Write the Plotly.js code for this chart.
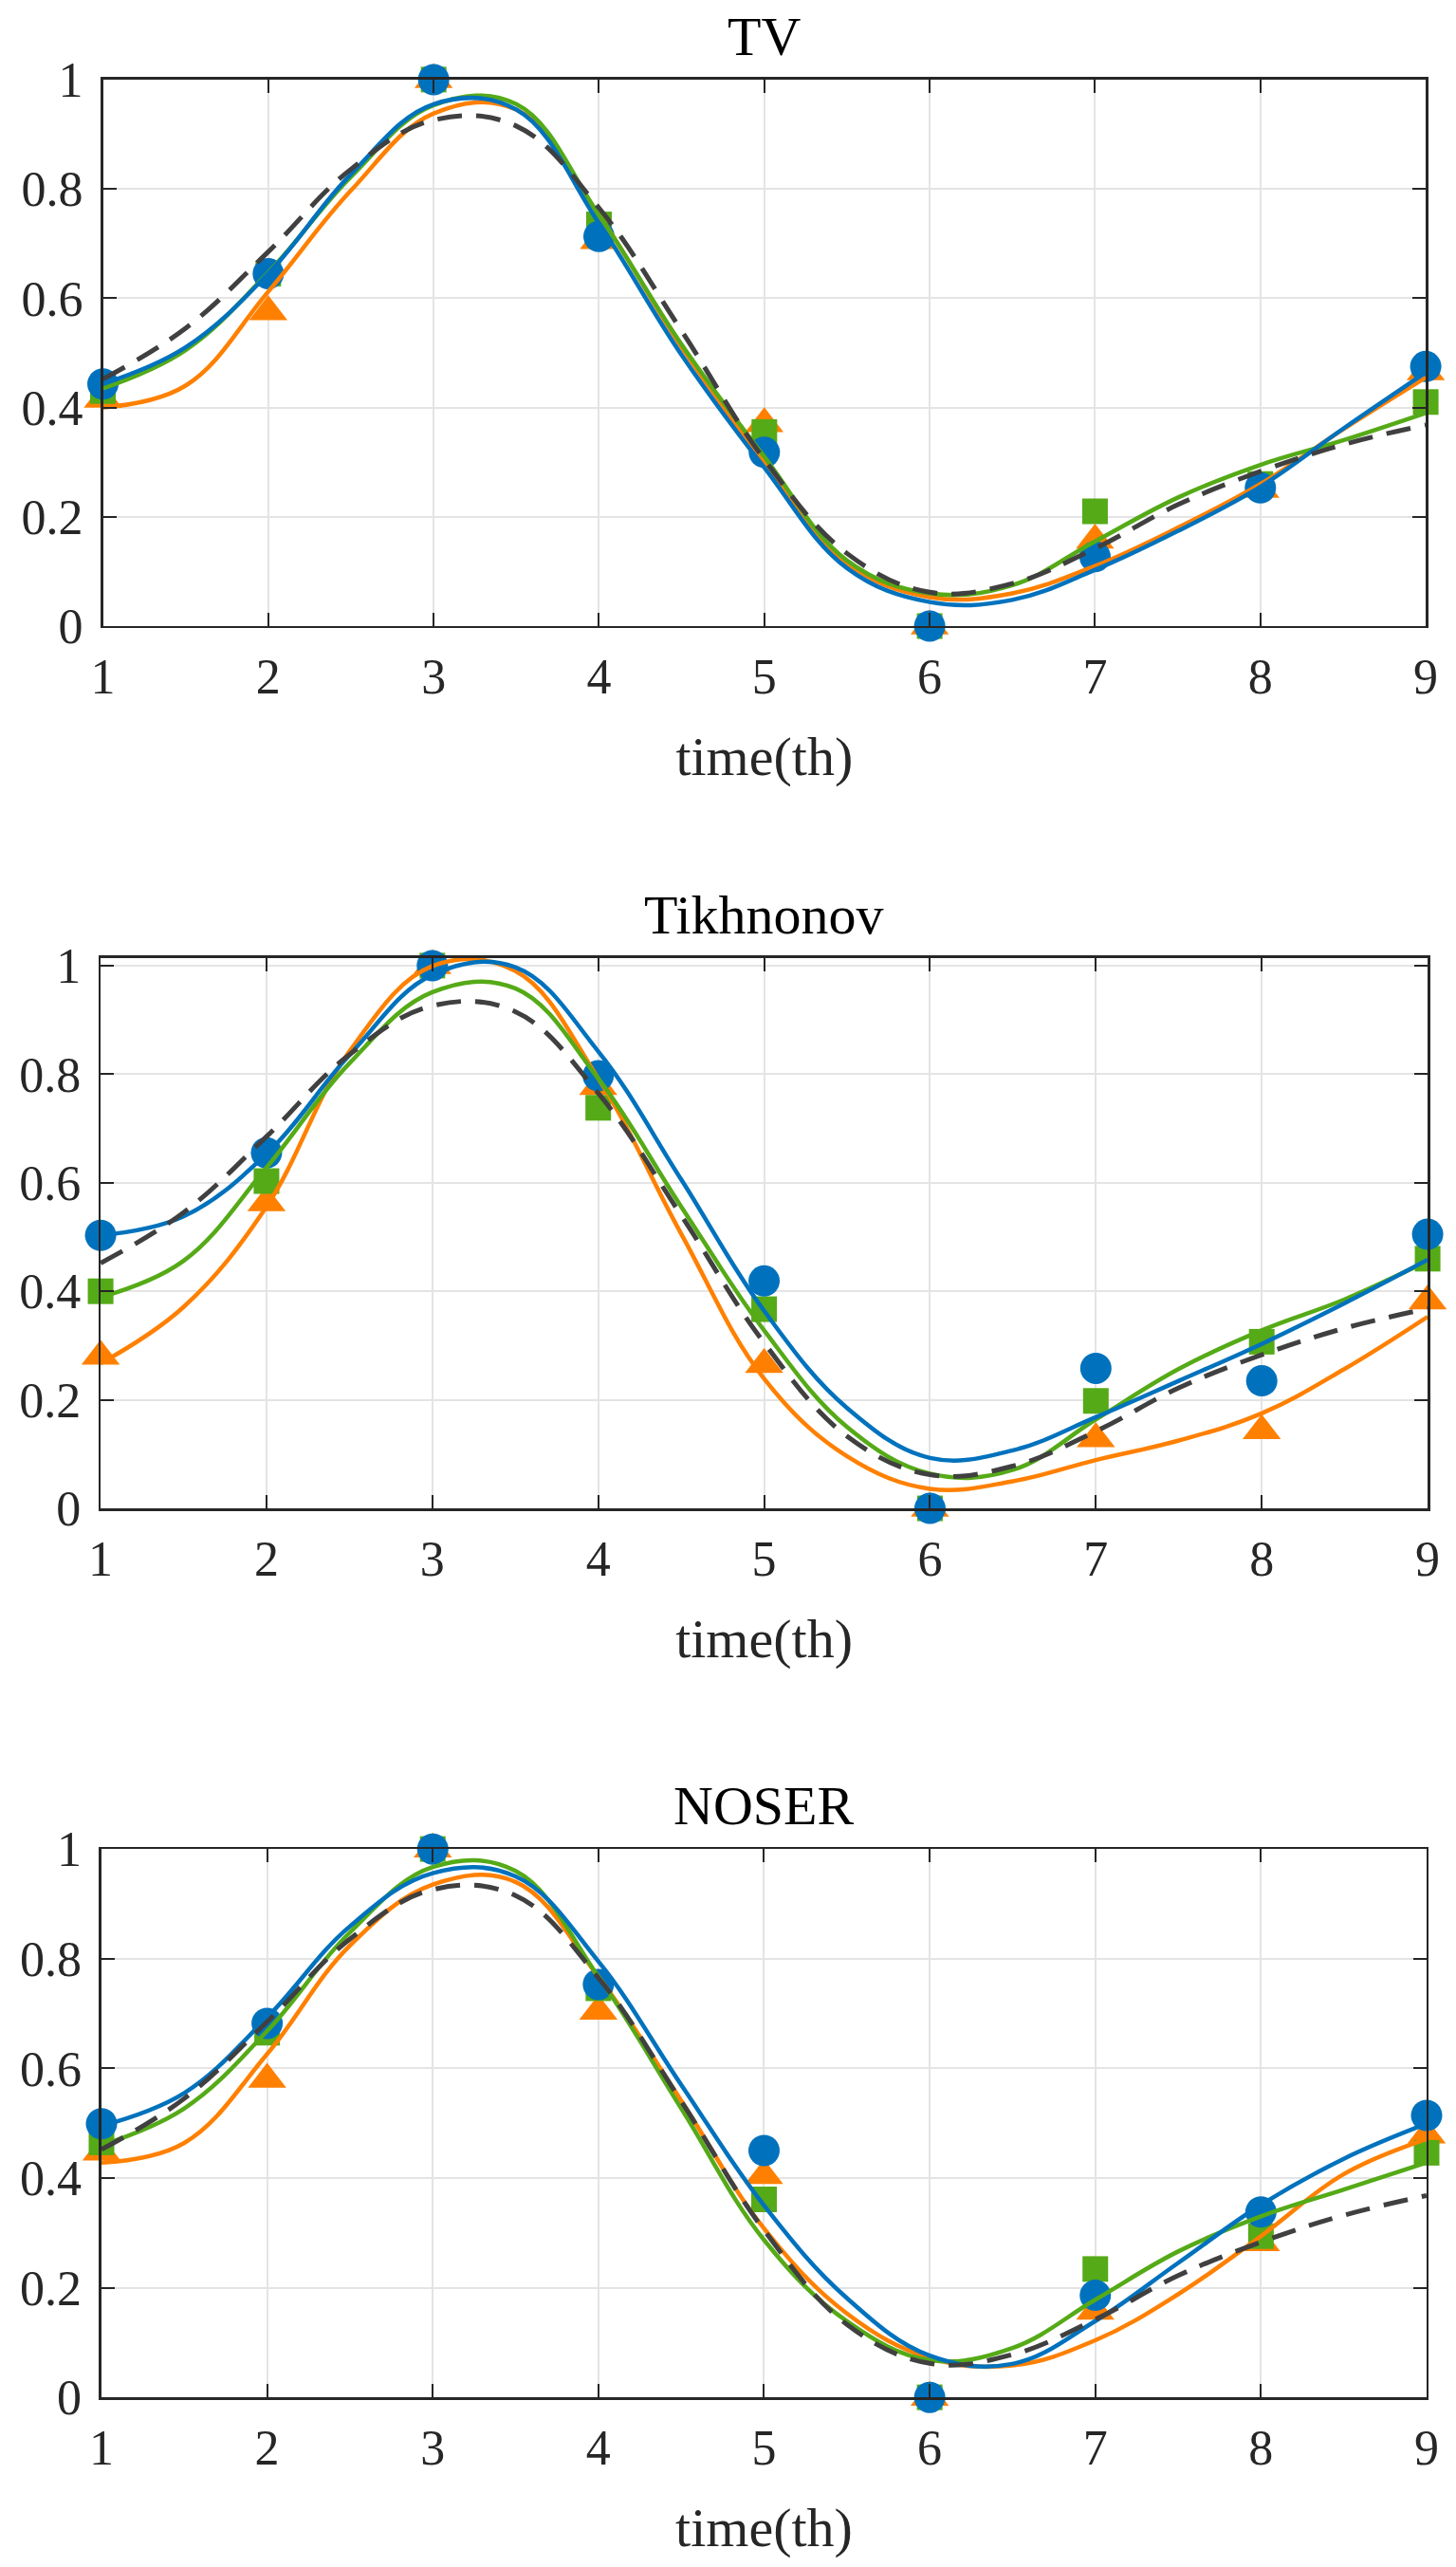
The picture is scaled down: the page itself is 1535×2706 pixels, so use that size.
<!DOCTYPE html>
<html><head><meta charset="utf-8">
<script src="https://cdn.plot.ly/plotly-3.0.1.min.js"></script>
<style>html,body{margin:0;padding:0;background:#fff}</style>
</head><body>
<div id="chart" style="width:1535px;height:2706px"></div>
<script>
// ---- data ----
const panelTitles = ["TV", "Tikhnonov", "NOSER"];
const xTitle = "time(th)";
const xMarkers = [1, 2, 3, 4, 5, 6, 7, 8, 9];
const xCurve = [1, 1.5, 2, 2.5, 3, 3.5, 4, 4.5, 5, 5.5, 6, 6.5, 7, 7.5, 8, 8.5, 9];
const xTickVals = [1, 2, 3, 4, 5, 6, 7, 8, 9];
const yTickVals = [0, 0.2, 0.4, 0.6, 0.8, 1];
const yTickText = ["0", "0.2", "0.4", "0.6", "0.8", "1"];

// reference (dashed) curve, same in every panel
const trueCurve = [0.452, 0.545, 0.685, 0.836, 0.926, 0.915, 0.765, 0.540, 0.305, 0.133, 0.062, 0.078, 0.142, 0.222, 0.283, 0.332, 0.368];

// TV
const tvOrangeCurve = [0.400, 0.440, 0.612, 0.797, 0.938, 0.945, 0.752, 0.510, 0.300, 0.115, 0.053, 0.060, 0.110, 0.180, 0.260, 0.360, 0.455];
const tvGreenCurve  = [0.435, 0.505, 0.647, 0.822, 0.953, 0.955, 0.752, 0.515, 0.310, 0.120, 0.060, 0.075, 0.155, 0.235, 0.295, 0.340, 0.390];
const tvBlueCurve   = [0.443, 0.510, 0.645, 0.827, 0.955, 0.945, 0.737, 0.496, 0.290, 0.106, 0.044, 0.048, 0.103, 0.174, 0.255, 0.361, 0.464];
const tvOrangePts = [0.415, 0.575, 1.0, 0.705, 0.370, 0.0, 0.157, 0.250, 0.465];
const tvGreenPts  = [0.430, 0.645, 1.0, 0.735, 0.355, 0.0, 0.210, 0.260, 0.410];
const tvBluePts   = [0.443, 0.645, 1.0, 0.713, 0.318, 0.0, 0.127, 0.253, 0.475];

// Tikhnonov
const tikOrangeCurve = [0.267, 0.371, 0.556, 0.842, 0.999, 0.990, 0.792, 0.506, 0.239, 0.096, 0.036, 0.050, 0.089, 0.125, 0.175, 0.257, 0.353];
const tikGreenCurve  = [0.389, 0.456, 0.628, 0.820, 0.951, 0.958, 0.792, 0.556, 0.328, 0.150, 0.064, 0.071, 0.164, 0.257, 0.328, 0.385, 0.456];
const tikBlueCurve   = [0.503, 0.538, 0.653, 0.835, 0.983, 0.997, 0.842, 0.606, 0.364, 0.185, 0.093, 0.107, 0.168, 0.235, 0.303, 0.378, 0.458];
const tikOrangePts = [0.280, 0.563, 1.0, 0.777, 0.265, 0.0, 0.128, 0.143, 0.382];
const tikGreenPts  = [0.400, 0.603, 1.0, 0.738, 0.367, 0.0, 0.198, 0.307, 0.460];
const tikBluePts   = [0.503, 0.655, 1.0, 0.797, 0.419, 0.0, 0.258, 0.235, 0.505];

// NOSER
const noserOrangeCurve = [0.428, 0.464, 0.626, 0.824, 0.935, 0.940, 0.767, 0.541, 0.308, 0.153, 0.072, 0.058, 0.104, 0.188, 0.294, 0.407, 0.471];
const noserGreenCurve  = [0.460, 0.527, 0.668, 0.848, 0.967, 0.960, 0.767, 0.527, 0.287, 0.139, 0.068, 0.090, 0.178, 0.266, 0.330, 0.379, 0.428];
const noserBlueCurve   = [0.495, 0.555, 0.693, 0.859, 0.956, 0.950, 0.795, 0.570, 0.350, 0.181, 0.076, 0.061, 0.139, 0.245, 0.351, 0.435, 0.499];
const noserOrangePts = [0.447, 0.580, 1.0, 0.704, 0.404, 0.0, 0.157, 0.282, 0.478];
const noserGreenPts  = [0.465, 0.665, 1.0, 0.746, 0.361, 0.0, 0.234, 0.294, 0.446];
const noserBluePts   = [0.499, 0.682, 1.0, 0.753, 0.450, 0.0, 0.186, 0.338, 0.514];

// ---- styling ----
const C_ORANGE = "#FF8000", C_GREEN = "#55AA17", C_BLUE = "#0072BD", C_DASH = "#404040";
const FONT = "'Liberation Serif', 'Times New Roman', serif";

const panels = [
  {curves: [tvOrangeCurve, tvGreenCurve, tvBlueCurve], pts: [tvOrangePts, tvGreenPts, tvBluePts],
   xdom: [0.0707, 0.9792], ydom: [0.7561, 0.9690], yr: [0, 1], titleY: 0.9856},
  {curves: [tikOrangeCurve, tikGreenCurve, tikBlueCurve], pts: [tikOrangePts, tikGreenPts, tikBluePts],
   xdom: [0.0691, 0.9805], ydom: [0.4124, 0.6268], yr: [0, 1.014], titleY: 0.6434},
  {curves: [noserOrangeCurve, noserGreenCurve, noserBlueCurve], pts: [noserOrangePts, noserGreenPts, noserBluePts],
   xdom: [0.0697, 0.9798], ydom: [0.0661, 0.2797], yr: [0, 1], titleY: 0.2967}
];

const colors = [C_ORANGE, C_GREEN, C_BLUE];
const symbols = ["triangle-up", "square", "circle"];
const sizes = [35, 27, 33];

const traces = [];
const layout = {
  width: 1535, height: 2706,
  margin: {l: 0, r: 0, t: 0, b: 0},
  paper_bgcolor: "#fff", plot_bgcolor: "#fff",
  showlegend: false,
  font: {family: FONT, size: 52, color: "#262626"},
  annotations: []
};

panels.forEach((p, i) => {
  const s = i === 0 ? "" : String(i + 1);
  const xa = "x" + s, ya = "y" + s;
  // markers
  for (let k = 0; k < 3; k++) {
    traces.push({x: xMarkers, y: p.pts[k], xaxis: xa, yaxis: ya, type: "scatter", mode: "markers",
      cliponaxis: false, hoverinfo: "skip",
      marker: {symbol: symbols[k], size: sizes[k], color: colors[k], line: {width: 0}}});
  }
  // fitted curves
  for (let k = 0; k < 3; k++) {
    traces.push({x: xCurve, y: p.curves[k], xaxis: xa, yaxis: ya, type: "scatter", mode: "lines",
      hoverinfo: "skip", line: {color: colors[k], width: 4.5, shape: "spline", smoothing: 1.1}});
  }
  // reference dashed curve
  traces.push({x: xCurve, y: trueCurve, xaxis: xa, yaxis: ya, type: "scatter", mode: "lines",
    hoverinfo: "skip", line: {color: C_DASH, width: 5, dash: "26px,15px", shape: "spline", smoothing: 1.1}});

  layout["xaxis" + s] = {
    domain: p.xdom, anchor: ya, range: [1, 9], tickvals: xTickVals,
    showline: true, mirror: "ticks", linecolor: "#262626", linewidth: 2.5,
    ticks: "inside", ticklen: 14, tickwidth: 2, tickcolor: "#262626",
    showgrid: true, gridcolor: "#e4e4e4", gridwidth: 2, zeroline: false,
    tickfont: {family: FONT, size: 52, color: "#262626"},
    ticklabelstandoff: 6,
    title: {text: xTitle, font: {family: FONT, size: 58, color: "#262626"}, standoff: 36}
  };
  layout["yaxis" + s] = {
    domain: p.ydom, anchor: xa, range: p.yr, tickvals: yTickVals, ticktext: yTickText,
    showline: true, mirror: "ticks", linecolor: "#262626", linewidth: 2.5,
    ticks: "inside", ticklen: 14, tickwidth: 2, tickcolor: "#262626",
    showgrid: true, gridcolor: "#e4e4e4", gridwidth: 2, zeroline: false,
    tickfont: {family: FONT, size: 52, color: "#262626"},
    ticklabelstandoff: 8
  };
  layout.annotations.push({
    text: panelTitles[i], xref: xa + " domain", x: 0.5, yref: "paper", y: p.titleY,
    xanchor: "center", yanchor: "middle", showarrow: false,
    font: {family: FONT, size: 58, color: "#000"}
  });
});

Plotly.newPlot("chart", traces, layout, {displayModeBar: false, staticPlot: true});
</script>
</body></html>
